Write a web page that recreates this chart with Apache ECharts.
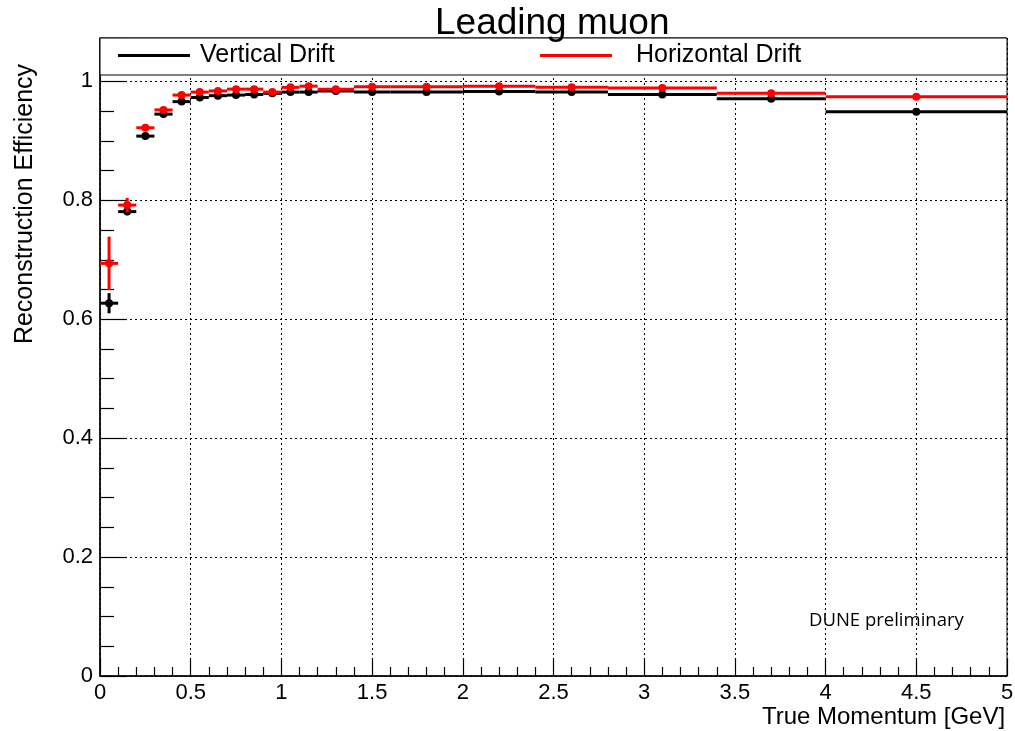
<!DOCTYPE html>
<html>
<head>
<meta charset="utf-8">
<script src="https://cdn.jsdelivr.net/npm/echarts@6/dist/echarts.min.js"></script>
<style>
html,body{margin:0;padding:0;background:#fff;}
#chart{width:1015px;height:731px;}
</style>
</head>
<body>
<div id="chart"></div>
<script>
// Bin edges (GeV)
const binEdges = [0, 0.1, 0.2, 0.3, 0.4, 0.5, 0.6, 0.7, 0.8, 0.9, 1.0, 1.1, 1.2, 1.4, 1.6, 2.0, 2.4, 2.8, 3.4, 4.0, 5.0];
// Vertical Drift efficiency and errors
const vdEff = [0.627, 0.781, 0.908, 0.945, 0.966, 0.973, 0.976, 0.977, 0.978, 0.980, 0.982, 0.982, 0.984, 0.982, 0.982, 0.983, 0.982, 0.978, 0.971, 0.949];
const vdErr = [0.017, 0.006, 0.004, 0.003, 0.002, 0.002, 0.002, 0.002, 0.002, 0.002, 0.002, 0.002, 0.002, 0.002, 0.002, 0.002, 0.002, 0.002, 0.002, 0.003];
// Horizontal Drift efficiency and errors
const hdEff = [0.694, 0.792, 0.922, 0.952, 0.977, 0.982, 0.984, 0.987, 0.987, 0.982, 0.990, 0.992, 0.987, 0.991, 0.991, 0.992, 0.990, 0.989, 0.980, 0.974];
const hdErr = [0.045, 0.012, 0.005, 0.003, 0.002, 0.002, 0.002, 0.002, 0.002, 0.002, 0.002, 0.002, 0.002, 0.002, 0.002, 0.002, 0.002, 0.002, 0.002, 0.003];
// Tick labels
const yTickLabels = ['0', '0.2', '0.4', '0.6', '0.8', '1'];
const xTickLabels = ['0', '0.5', '1', '1.5', '2', '2.5', '3', '3.5', '4', '4.5', '5'];

function buildData(eff, err) {
  return eff.map((v, i) => [binEdges[i], binEdges[i + 1], v, err[i]]);
}

function renderBin(params, api) {
  const lo = api.value(0), hi = api.value(1), v = api.value(2), e = api.value(3);
  const c = (lo + hi) / 2;
  const pL = api.coord([lo, v]), pR = api.coord([hi, v]);
  const pT = api.coord([c, v + e]), pB = api.coord([c, v - e]);
  const pC = api.coord([c, v]);
  const color = api.visual('color');
  return {
    type: 'group',
    children: [
      {type: 'line', shape: {x1: pL[0], y1: pL[1], x2: pR[0], y2: pR[1]}, style: {stroke: color, lineWidth: 3}},
      {type: 'line', shape: {x1: pT[0], y1: pT[1], x2: pB[0], y2: pB[1]}, style: {stroke: color, lineWidth: 3}},
      {type: 'circle', shape: {cx: pC[0], cy: pC[1], r: 4}, style: {fill: color}}
    ]
  };
}

const FONT = '"Liberation Sans", Arial, Helvetica, sans-serif';
const chart = echarts.init(document.getElementById('chart'), null, {renderer: 'canvas'});

const option = {
  backgroundColor: '#fff',
  animation: false,
  title: {
    text: 'Leading muon',
    left: 430, top: 0, z: 80,
    textStyle: {fontFamily: FONT, fontSize: 37, fontWeight: 'normal', color: '#000'}
  },
  grid: {
    left: 100, right: 8, top: 38, bottom: 55,
    outerBoundsMode: 'none', containLabel: false,
    show: true, borderColor: '#000', borderWidth: 1, backgroundColor: 'transparent'
  },
  xAxis: {
    type: 'value', min: 0, max: 5, interval: 0.5,
    name: 'True Momentum [GeV]', nameLocation: 'middle', nameGap: 41, nameMoveOverlap: false,
    nameTextStyle: {fontFamily: FONT, fontSize: 24, color: '#000', verticalAlign: 'middle', padding: [0, 0, 0, 660]},
    axisLine: {show: true, onZero: false, lineStyle: {color: '#000', width: 1.5}},
    axisTick: {show: true, inside: true, length: 18, lineStyle: {color: '#000', width: 1.2}},
    minorTick: {show: true, splitNumber: 5, length: 9, lineStyle: {color: '#000', width: 1.2}},
    axisLabel: {
      fontFamily: FONT, fontSize: 22, color: '#000', margin: 6,
      formatter: v => { const i = Math.round(v / 0.5); return Math.abs(i * 0.5 - v) < 1e-6 ? xTickLabels[i] : ''; }
    },
    splitLine: {show: true, lineStyle: {color: '#000', type: [2, 3], width: 1}},
    minorSplitLine: {show: false}
  },
  yAxis: {
    type: 'value', min: 0, max: 1.073, interval: 0.2,
    name: 'Reconstruction Efficiency', nameLocation: 'middle', nameGap: 62, nameRotate: 90, nameMoveOverlap: false,
    nameTextStyle: {fontFamily: FONT, fontSize: 25, color: '#000', padding: [0, 0, 0, 306]},
    axisLine: {show: true, onZero: false, lineStyle: {color: '#000', width: 1.5}},
    axisTick: {show: true, inside: true, length: 27, lineStyle: {color: '#000', width: 1.2}},
    minorTick: {show: true, splitNumber: 4, length: 14, lineStyle: {color: '#000', width: 1.2}},
    axisLabel: {
      fontFamily: FONT, fontSize: 22, color: '#000', margin: 7,
      formatter: v => { const i = Math.round(v / 0.2); return (Math.abs(i * 0.2 - v) < 1e-6 && i < yTickLabels.length) ? yTickLabels[i] : ''; }
    },
    splitLine: {show: true, lineStyle: {color: '#000', type: [2, 3], width: 1}}
  },
  legend: [
    {
      data: ['Vertical Drift'], left: 118, top: 43, padding: 0, z: 60,
      icon: 'rect', itemWidth: 72, itemHeight: 3, selectedMode: false,
      textStyle: {fontFamily: FONT, fontSize: 25, color: '#000', padding: [0, 0, 0, 5]}
    },
    {
      data: ['Horizontal Drift'], left: 540, top: 43, padding: 0, z: 60,
      icon: 'rect', itemWidth: 72, itemHeight: 3, selectedMode: false,
      textStyle: {fontFamily: FONT, fontSize: 25, color: '#000', padding: [0, 0, 0, 19]}
    }
  ],
  graphic: {
    elements: [
      {type: 'rect', z: 50, shape: {x: 100, y: 38, width: 907, height: 37},
       style: {fill: '#fff', stroke: '#000', lineWidth: 1}},
      {type: 'text', z: 50, left: 809, top: 611,
       style: {text: 'DUNE preliminary', font: '18.5px "Open Sans", "Noto Sans", sans-serif', fill: '#000'}}
    ]
  },
  series: [
    {
      name: 'Vertical Drift', type: 'custom', renderItem: renderBin,
      itemStyle: {color: '#000'}, z: 3,
      encode: {x: [0, 1], y: 2},
      data: buildData(vdEff, vdErr)
    },
    {
      name: 'Horizontal Drift', type: 'custom', renderItem: renderBin,
      itemStyle: {color: '#ff0000'}, z: 4,
      encode: {x: [0, 1], y: 2},
      data: buildData(hdEff, hdErr)
    }
  ]
};
chart.setOption(option);
</script>
</body>
</html>
